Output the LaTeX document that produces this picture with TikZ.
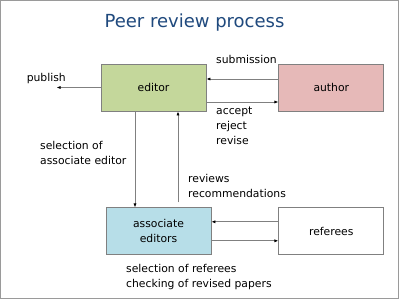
\documentclass[tikz,border=0pt]{standalone}
\usepackage{fontspec}
\setmainfont{DejaVu Sans}
\usetikzlibrary{arrows.meta,positioning}
\definecolor{titleblue}{RGB}{31,73,125}
\definecolor{edgreen}{RGB}{196,215,155}
\definecolor{aupink}{RGB}{230,185,184}
\definecolor{aeblue}{RGB}{183,222,232}
\definecolor{linegray}{RGB}{128,128,128}

\begin{document}
\begin{tikzpicture}[x=1pt, y=-1pt, font=\fontsize{10.8}{14.7}\selectfont,
  role/.style={draw=linegray, line width=0.8pt, align=center, minimum width=105pt, minimum height=47pt, fill=#1},
  flow/.style={-{Latex[length=4pt,width=3.2pt,black]}, draw=linegray, line width=0.8pt},
  note/.style={align=left, inner sep=0pt, anchor=north west}]
  \useasboundingbox (0,0) rectangle (400,300);
  \draw[linegray!80, line width=1.2pt] (0.6,0.6) rectangle (398.4,298.4);
  \node[font=\fontsize{18}{20}\selectfont, text=titleblue] (title) at (194.5,23) {Peer review process};
  \node[role=edgreen] (editor) at (153.5,87.5) {editor};
  \node[role=aupink, right=72pt of editor] (author) {author};
  \node[role=aeblue, below=96pt of editor, xshift=5pt] (assoc) {associate\\editors};
  \node[role=white, below=96pt of author] (referees) {referees};
  \coordinate[left=44pt of editor.west] (out);
  \draw[flow] (editor.west) -- (out);
  \node[anchor=east, inner sep=0pt] (publish) at (66,79) {publish};
  \draw[flow] ([yshift=8.5pt]author.west) -- ([yshift=8.5pt]editor.east);
  \draw[flow] ([yshift=-14.5pt]editor.east) -- ([yshift=-14.5pt]author.west);
  \draw[flow] ([xshift=-18.5pt]editor.south) -- ([xshift=-18.5pt]editor.south |- assoc.north);
  \draw[flow] ([xshift=24.5pt,yshift=5pt]editor.south |- assoc.north) -- ([xshift=24.5pt]editor.south);
  \draw[flow] ([yshift=9.5pt]referees.west) -- ([yshift=9.5pt]assoc.east);
  \draw[flow] ([yshift=-9.5pt]assoc.east) -- ([yshift=-9.5pt]referees.west);
  \node[note] (submission) at (216,55) {submission};
  \node[note] (decision) at (216,107) {accept\\reject\\revise};
  \node[note] (choose) at (40,141) {selection of\\associate editor};
  \node[note] (reviews) at (188,174) {reviews\\recommendations};
  \node[note] (tasks) at (126,264) {selection of referees\\checking of revised papers};
\end{tikzpicture}
\end{document}
